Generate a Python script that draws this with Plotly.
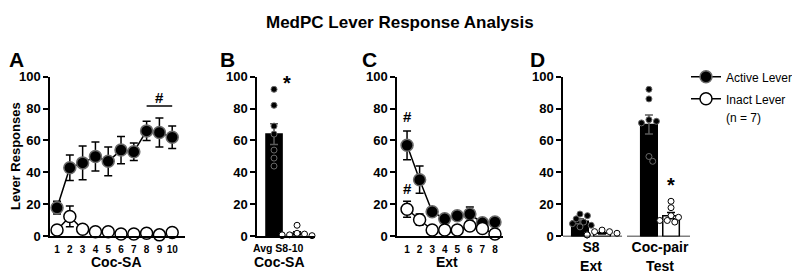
import plotly.graph_objects as go

# ---------------- data ----------------
sa_sessions = [1, 2, 3, 4, 5, 6, 7, 8, 9, 10]
sa_active = [18, 43, 46, 50, 47, 54, 53, 66, 65, 62]
sa_active_sem = [4, 8, 10.5, 9, 9, 8.5, 5.5, 6, 9, 7]
sa_inact = [4, 12.5, 4.5, 3, 3, 1.5, 1.5, 2, 1, 2.5]
sa_inact_sem = [1, 6.5, 1, 0.8, 0.8, 0.5, 0.5, 0.5, 0.5, 1]

b_label = "Avg S8-10"
b_active_mean, b_active_sem = 64, 6.5
b_inact_mean, b_inact_sem = 2, 1
b_active_pts = [92, 82, 69, 64, 54, 49, 44]
b_inact_pts = [7, 2, 1.5, 1, 0.5, 0.5, 1]

ext_sessions = [1, 2, 3, 4, 5, 6, 7, 8]
ext_active = [57, 35.5, 15.5, 11, 13, 14, 8.5, 9]
ext_active_sem = [9, 8.5, 1.2, 2, 2, 4.5, 1.5, 1]
ext_inact = [17, 10.5, 4, 4, 4, 6.5, 5, 1.5]
ext_inact_sem = [5, 3.5, 0.8, 0.8, 0.8, 2.5, 2, 0.5]

d_groups = ["S8<br>Ext", "Coc-pair<br>Test"]
d_active_mean = [9.5, 70]
d_active_sem = [1.5, 6]
d_inact_mean = [2, 13]
d_inact_sem = [0.5, 2]
d_active_pts = [[14, 13, 11, 9, 8, 7, 6], [92, 86, 73, 72, 71, 50, 47]]
d_inact_pts = [[4, 3, 3, 2, 1, 1, 1], [22, 18, 13, 12, 10, 10, 9]]

# ---------------- style ----------------
FONT = "Liberation Sans, Arial, sans-serif"
W, H = 800, 280
OX, OY = 8, 8            # page body margin offset
Y0_PX, Y100_PX = 242, 73
PX_PER_Y = (Y0_PX - Y100_PX) / 100.0
ACT_EDGE = "#6a6a6a"


def px(x):
    return (x - OX) / W


def py(y):
    return 1 - (y - OY) / H


def swarm(vals, center, px_per_x, d=6.8):
    placed = []
    xs = []
    for v in vals:
        yy = v * PX_PER_Y
        dx = 0
        for k in [0, 1, -1, 2, -2, 3, -3, 4, -4]:
            dx = k * d * 0.55
            if all(((dx - qx) ** 2 + (yy - qy) ** 2) >= (d * 0.8) ** 2 for qx, qy in placed):
                break
        placed.append((dx, yy))
        xs.append(center + dx / px_per_x)
    return xs


def err(arr, color="black"):
    return dict(type="data", array=arr, visible=True, color=color, thickness=1.5, width=4)


fig = go.Figure()

# ---- Panel A ----
fig.add_trace(go.Scatter(x=sa_sessions, y=sa_active, error_y=err(sa_active_sem), mode="lines+markers",
                         line=dict(color="black", width=1.5),
                         marker=dict(size=12, color="black", line=dict(color=ACT_EDGE, width=1.5)),
                         name="Active Lever", legendgroup="a", xaxis="x", yaxis="y", cliponaxis=False))
fig.add_trace(go.Scatter(x=sa_sessions, y=sa_inact, error_y=err(sa_inact_sem), mode="lines+markers",
                         line=dict(color="black", width=1.5),
                         marker=dict(size=12, color="white", line=dict(color="black", width=1.5)),
                         name="Inact Lever", legendgroup="b", xaxis="x", yaxis="y", cliponaxis=False))

# ---- Panel B ----
B_PX = 23.0
fig.add_trace(go.Bar(x=[0], y=[b_active_mean], width=0.7, marker=dict(color="black", line=dict(color="black", width=1.5)),
                     error_y=err([b_active_sem], "#5a5a5a"), xaxis="x2", yaxis="y2", showlegend=False))
fig.add_trace(go.Bar(x=[1], y=[b_inact_mean], width=0.7, marker=dict(color="white", line=dict(color="black", width=1.5)),
                     error_y=err([b_inact_sem]), xaxis="x2", yaxis="y2", showlegend=False))
fig.add_trace(go.Scatter(x=swarm(b_active_pts, 0, B_PX), y=b_active_pts, mode="markers",
                         marker=dict(size=6, color="black", line=dict(color=ACT_EDGE, width=1)),
                         xaxis="x2", yaxis="y2", showlegend=False, cliponaxis=False))
fig.add_trace(go.Scatter(x=swarm(b_inact_pts, 1, B_PX), y=b_inact_pts, mode="markers",
                         marker=dict(size=6, color="white", line=dict(color="black", width=1)),
                         xaxis="x2", yaxis="y2", showlegend=False, cliponaxis=False))

# ---- Panel C ----
fig.add_trace(go.Scatter(x=ext_sessions, y=ext_active, error_y=err(ext_active_sem), mode="lines+markers",
                         line=dict(color="black", width=1.5),
                         marker=dict(size=12, color="black", line=dict(color=ACT_EDGE, width=1.5)),
                         xaxis="x3", yaxis="y3", showlegend=False, cliponaxis=False))
fig.add_trace(go.Scatter(x=ext_sessions, y=ext_inact, error_y=err(ext_inact_sem), mode="lines+markers",
                         line=dict(color="black", width=1.5),
                         marker=dict(size=12, color="white", line=dict(color="black", width=1.5)),
                         xaxis="x3", yaxis="y3", showlegend=False, cliponaxis=False))

# ---- Panel D ----
D_PX = 69.0
OFF = 0.16
gidx = list(range(len(d_groups)))
fig.add_trace(go.Bar(x=[g - OFF for g in gidx], y=d_active_mean, width=0.24,
                     marker=dict(color="black", line=dict(color="black", width=1.5)),
                     error_y=err(d_active_sem, "#5a5a5a"), xaxis="x4", yaxis="y4", showlegend=False))
fig.add_trace(go.Bar(x=[g + OFF for g in gidx], y=d_inact_mean, width=0.24,
                     marker=dict(color="white", line=dict(color="black", width=1.5)),
                     error_y=err(d_inact_sem), xaxis="x4", yaxis="y4", showlegend=False))
for g in gidx:
    fig.add_trace(go.Scatter(x=swarm(d_active_pts[g], g - OFF, D_PX), y=d_active_pts[g], mode="markers",
                             marker=dict(size=6, color="black", line=dict(color=ACT_EDGE, width=1)),
                             xaxis="x4", yaxis="y4", showlegend=False, cliponaxis=False))
    fig.add_trace(go.Scatter(x=swarm(d_inact_pts[g], g + OFF, D_PX), y=d_inact_pts[g], mode="markers",
                             marker=dict(size=6, color="white", line=dict(color="black", width=1)),
                             xaxis="x4", yaxis="y4", showlegend=False, cliponaxis=False))

# ---------------- axes ----------------
ydom = [py(Y0_PX), py(Y100_PX)]
yax = dict(range=[0, 100], domain=ydom, showline=True, linecolor="black", linewidth=1.5,
           ticks="outside", ticklen=5, tickwidth=1.5, tickcolor="black", tickvals=[0, 20, 40, 60, 80, 100],
           tickfont=dict(family=FONT, size=13, color="black", weight="bold"), showgrid=False, zeroline=False)
xax = dict(showline=True, linecolor="black", linewidth=1.5, ticks="", showgrid=False, zeroline=False,
           tickfont=dict(family=FONT, size=10, color="black", weight="bold"), ticklabelstandoff=3)

layout = dict(
    width=W, height=H, margin=dict(l=0, r=0, t=0, b=0),
    paper_bgcolor="white", plot_bgcolor="white", barmode="overlay",
    xaxis=dict(xax, domain=[px(50), px(185)], range=[0.45, 11.0], tickvals=sa_sessions, anchor="y"),
    yaxis=dict(yax, anchor="x"),
    xaxis2=dict(xax, domain=[px(257), px(315)], range=[-0.74, 1.78], tickvals=[], anchor="y2"),
    yaxis2=dict(yax, anchor="x2"),
    xaxis3=dict(xax, domain=[px(397), px(503)], range=[0.2, 8.64], tickvals=ext_sessions, anchor="y3"),
    yaxis3=dict(yax, anchor="x3"),
    xaxis4=dict(xax, domain=[px(563), px(690)], range=[-0.406, 1.435], showline=False, tickvals=gidx,
                ticktext=d_groups, tickfont=dict(family=FONT, size=14, color="black", weight="bold"),
                ticklabelstandoff=1, anchor="y4"),
    yaxis4=dict(yax, anchor="x4"),
    showlegend=True,
    legend=dict(x=px(686), y=py(58), xanchor="left", yanchor="top", itemwidth=30,
                font=dict(family=FONT, size=12, color="black"), bgcolor="rgba(0,0,0,0)",
                tracegroupgap=3),
    font=dict(family=FONT, color="black"),
)
fig.update_layout(**layout)

# broken x-axis for panel D
for a, b in [(0, 0.465), (0.504, 1)]:
    fig.add_shape(type="line", xref="x4 domain", yref="y4", x0=a, x1=b, y0=0, y1=0,
                  line=dict(color="black", width=1.5))
# significance line in panel A
fig.add_shape(type="line", xref="x", yref="y", x0=8, x1=10, y0=81.6, y1=81.6,
              line=dict(color="black", width=1.5))


def ann(text, x, y, xref="paper", yref="paper", size=12, bold=True, xanchor="center", yanchor="middle", angle=0):
    fig.add_annotation(text=("<b>%s</b>" % text) if bold else text, x=x, y=y, xref=xref, yref=yref,
                       showarrow=False, xanchor=xanchor, yanchor=yanchor, textangle=angle, borderpad=0,
                       font=dict(family=FONT, size=size, color="black"))


ann("MedPC Lever Response Analysis", px(400), py(5), size=17, yanchor="top")
for letter, lx in [("A", 8), ("B", 219), ("C", 361), ("D", 529)]:
    ann(letter, px(lx), py(54.5), size=21, xanchor="left")

ann("Lever Responses", px(15), py(157), size=13, angle=-90)
ann("Coc-SA", px(116), py(269), size=14)
ann(b_label, px(278.5), py(254), size=10.5)
ann("Coc-SA", px(279), py(269), size=14)
ann("Ext", px(447), py(269), size=14)

ann("#", 9, 87, xref="x", yref="y", size=15)
ann("*", 0.55, 96, xref="x2", yref="y2", size=20)
ann("#", 1, 75, xref="x3", yref="y3", size=15)
ann("#", 1, 30, xref="x3", yref="y3", size=15)
ann("#", 1 - OFF, 103, xref="x4", yref="y4", size=15)
ann("*", 1 + OFF, 32, xref="x4", yref="y4", size=20)
ann("(n = 7)", px(725), py(117), size=12, bold=False, xanchor="left")

fig.write_html("out.html")
